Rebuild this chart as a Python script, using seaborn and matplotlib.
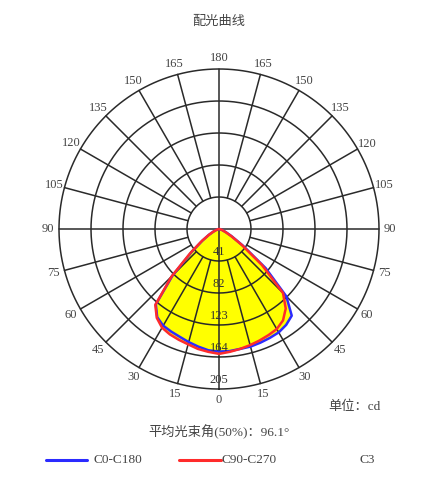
import numpy as np
import pandas as pd
import matplotlib
matplotlib.use("Agg")
import matplotlib.pyplot as plt
import seaborn as sns

sns.set_theme(style="white")
plt.rcParams['font.family'] = ['Liberation Serif', 'Noto Sans CJK SC', 'DejaVu Sans']

# ---- data ----
gamma = [0, 5, 10, 15, 20, 25, 30, 35, 40, 45, 50, 55, 60, 65, 70, 75, 80, 85, 90]
c0_right = [157, 157, 156, 156, 155, 154, 153, 150, 145, 122, 78, 38, 19, 10, 5, 3, 1, 0, 0]
c180_left = [157, 156, 153, 150, 147, 145, 143, 138, 126, 84, 46, 26, 15, 8, 4, 2, 1, 0, 0]
c90_right = [160, 158, 156, 154, 152, 150, 148, 143, 133, 116, 72, 36, 18, 9, 5, 3, 1, 0, 0]
c270_left = [160, 158, 156, 153, 151, 149, 146, 139, 127, 86, 48, 27, 15, 8, 4, 2, 1, 0, 0]
ring_values = [41, 82, 123, 164, 205]
angle_ticks = [0, 15, 30, 45, 60, 75, 90, 105, 120, 135, 150, 165, 180]
legend_names = ["C0-C180", "C90-C270", "C3"]
title = "配光曲线"
unit_text = "单位：cd"
beam_text = "平均光束角(50%)：96.1°"

def curve(left, right, name):
    g = np.array(gamma, dtype=float)
    th = np.concatenate([-g[::-1], g[1:]])
    r = np.concatenate([np.array(left[::-1], float), np.array(right[1:], float)])
    return pd.DataFrame({"theta": np.deg2rad(th), "I": r, "plane": name})

df = pd.concat([curve(c180_left, c0_right, legend_names[0]),
                curve(c270_left, c90_right, legend_names[1])], ignore_index=True)

W, H = 443, 504
fig = plt.figure(figsize=(W / 100, H / 100), dpi=100)
cx, cy, R = 219, 229, 160
ax = fig.add_axes([(cx - R) / W, (H - cy - R) / H, 2 * R / W, 2 * R / H], projection='polar')
ax.set_theta_zero_location('S')
ax.set_theta_direction(1)
rmax = ring_values[-1]
ax.set_ylim(0, rmax)
ax.axis('off')

# yellow fill
for name, sub in df.groupby("plane"):
    ax.fill(sub["theta"], sub["I"], color="#ffff00", zorder=1, lw=0)

# grid
gc = "#2a2a2a"
tt = np.linspace(0, 2 * np.pi, 400)
for rv in ring_values:
    ax.plot(tt, np.full_like(tt, rv), color=gc, lw=1.1, zorder=2, clip_on=False)
for a in range(0, 360, 15):
    t = np.deg2rad(a)
    r0 = 0 if a % 90 == 0 else ring_values[0]
    ax.plot([t, t], [r0, rmax], color=gc, lw=1.1, zorder=2, clip_on=False)

# curves
palette = {legend_names[0]: "#2b2bff", legend_names[1]: "#ff2b2b"}
sns.lineplot(data=df, x="theta", y="I", hue="plane", palette=palette, sort=False,
             estimator=None, lw=1.8, ax=ax, legend=False, zorder=3)
ax.set_ylim(0, rmax)

# ring labels
for rv in ring_values:
    ax.text(0, rv - 0.055 * rmax, str(rv), ha='center', va='center', fontsize=9,
            color="#333333", zorder=4)

# angle labels
lr = rmax * 171 / 160
for a in angle_ticks:
    for s in ([1] if a in (0, 180) else [1, -1]):
        ax.text(np.deg2rad(s * a), lr, str(a), ha='center', va='center', fontsize=9,
                color="#444444", clip_on=False)

def ftext(x, y, s, **kw):
    fig.text(x / W, 1 - y / H, s, **kw)

ftext(219, 22, title, ha='center', va='center', fontsize=9.5, color="#444444")
ftext(328, 407, unit_text, ha='left', va='center', fontsize=9.5, color="#444444")
ftext(219, 432, beam_text, ha='center', va='center', fontsize=9.5, color="#444444")

lax = fig.add_axes([0, 0, 1, 1], facecolor='none')
lax.set_xlim(0, W)
lax.set_ylim(H, 0)
lax.axis('off')
lax.plot([46, 87], [460, 460], color=palette[legend_names[0]], lw=2.2)
lax.plot([179, 221], [460, 460], color=palette[legend_names[1]], lw=2.2)
ftext(93, 460, legend_names[0], ha='left', va='center', fontsize=9.5, color="#444444")
ftext(221, 460, legend_names[1], ha='left', va='center', fontsize=9.5, color="#444444")
ftext(367, 460, legend_names[2], ha='center', va='center', fontsize=9.5, color="#444444")

fig.savefig("out.png", dpi=100)
